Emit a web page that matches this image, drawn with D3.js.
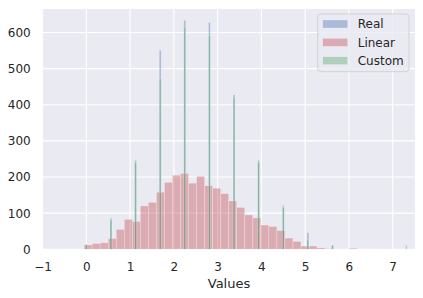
<!DOCTYPE html>
<html>
<head>
<meta charset="utf-8">
<script src="https://cdn.jsdelivr.net/npm/d3@7"></script>
<style>
  body { margin: 0; background: #fff; }
  text { font-family: "DejaVu Sans", sans-serif; fill: #262626; }
</style>
</head>
<body>
<svg id="chart"></svg>
<script>
// discrete values shared by Real and Custom
const spikeValues = [0, 0.5625, 1.125, 1.6875, 2.25, 2.8125, 3.375, 3.9375, 4.5, 5.0625, 5.625, 6.1875, 6.75, 7.3125]
const realCounts = [12, 80, 240, 551, 634, 628, 428, 240, 115, 46, 10, 0, 0, 0]
const customCounts = [14, 87, 247, 473, 615, 592, 419, 247, 122, 26, 12, 0, 0, 11]

// Linear histogram: first bin edge, bin width, counts
const linearStart = -0.05
const linearBinWidth = 0.1835
const linearCounts = [12, 16, 18, 30, 55, 83, 77, 120, 130, 158, 185, 205, 210, 183, 202, 176, 169, 154, 134, 116,
  95, 87, 67, 63, 52, 31, 22, 9, 9, 4, 2, 1, 0, 3, 0, 0, 0, 1, 0, 0]

const xTicks = [-1, 0, 1, 2, 3, 4, 5, 6, 7]
const yTicks = [0, 100, 200, 300, 400, 500, 600]
const seriesNames = ["Real", "Linear", "Custom"]
const seriesColors = ["#4C72B0", "#C44E52", "#55A868"]

const width = 423
const height = 298
const plot = { left: 43, right: 415, top: 9, bottom: 249.3 }
const spikeWidth = 0.045

const svg = d3.select("#chart").attr("width", width).attr("height", height)

const x = d3.scaleLinear().domain([-0.99, 7.51]).range([plot.left, plot.right])
const y = d3.scaleLinear().domain([0, 665]).range([plot.bottom, plot.top])

// background
svg.append("rect")
  .attr("x", plot.left).attr("y", plot.top)
  .attr("width", plot.right - plot.left).attr("height", plot.bottom - plot.top)
  .attr("fill", "#EAEAF2")

// grid
const grid = svg.append("g").attr("stroke", "#fff").attr("stroke-width", 1.1)
grid.selectAll("line.gx").data(xTicks).join("line")
  .attr("x1", d => x(d)).attr("x2", d => x(d))
  .attr("y1", plot.top).attr("y2", plot.bottom)
grid.selectAll("line.gy").data(yTicks).join("line")
  .attr("x1", plot.left).attr("x2", plot.right)
  .attr("y1", d => y(d)).attr("y2", d => y(d))

const clip = svg.append("clipPath").attr("id", "clip")
  .append("rect")
  .attr("x", plot.left).attr("y", plot.top)
  .attr("width", plot.right - plot.left).attr("height", plot.bottom - plot.top)

const bars = svg.append("g").attr("clip-path", "url(#clip)")

const drawBars = (data, color) => {
  bars.append("g")
    .selectAll("rect")
    .data(data.filter(d => d.count > 0))
    .join("rect")
    .attr("x", d => x(d.x0))
    .attr("width", d => x(d.x1) - x(d.x0))
    .attr("y", d => y(d.count))
    .attr("height", d => y(0) - y(d.count))
    .attr("fill", color)
    .attr("fill-opacity", 0.4)
    .attr("stroke", "#fff")
    .attr("stroke-opacity", 0.4)
    .attr("stroke-width", 0.6)
}

const spikes = (counts) => spikeValues.map((v, i) => ({
  x0: v - spikeWidth / 2, x1: v + spikeWidth / 2, count: counts[i],
}))
const linearData = linearCounts.map((c, i) => ({
  x0: linearStart + i * linearBinWidth, x1: linearStart + (i + 1) * linearBinWidth, count: c,
}))

drawBars(spikes(realCounts), seriesColors[0])
drawBars(linearData, seriesColors[1])
drawBars(spikes(customCounts), seriesColors[2])

// axes
const xAxis = svg.append("g")
  .attr("transform", `translate(0,${plot.bottom})`)
  .call(d3.axisBottom(x).tickValues(xTicks).tickSize(0).tickPadding(13).tickFormat(d3.format("")))
xAxis.select(".domain").remove()
xAxis.selectAll("text").attr("font-size", 12).attr("fill", "#262626")
  .attr("font-family", "DejaVu Sans")
  .text(d => d < 0 ? "\u2212" + Math.abs(d) : d)

const yAxis = svg.append("g")
  .attr("transform", `translate(${plot.left},0)`)
  .call(d3.axisLeft(y).tickValues(yTicks).tickSize(0).tickPadding(12.3))
yAxis.select(".domain").remove()
yAxis.selectAll("text").attr("font-size", 12).attr("fill", "#262626")
  .attr("font-family", "DejaVu Sans")

svg.append("text")
  .attr("x", (plot.left + plot.right) / 2)
  .attr("y", 288)
  .attr("text-anchor", "middle")
  .attr("font-size", 13)
  .text("Values")

// legend
const legend = svg.append("g").attr("transform", "translate(317.7,14)")
legend.append("rect")
  .attr("width", 91.3).attr("height", 57.7)
  .attr("rx", 3)
  .attr("fill", "#EAEAF2")
  .attr("fill-opacity", 0.8)
  .attr("stroke", "#cccccc")
  .attr("stroke-opacity", 0.8)
  .attr("stroke-width", 1)

const rows = legend.selectAll("g.row").data(seriesNames).join("g")
  .attr("transform", (d, i) => `translate(5,${10 + i * 18.35})`)
rows.append("rect")
  .attr("y", -4).attr("width", 25).attr("height", 8)
  .attr("fill", (d, i) => seriesColors[i])
  .attr("fill-opacity", 0.4)
  .attr("stroke", "#fff")
  .attr("stroke-opacity", 0.4)
  .attr("stroke-width", 0.6)
rows.append("text")
  .attr("x", 35).attr("dy", "0.36em")
  .attr("font-size", 12)
  .text(d => d)
</script>
</body>
</html>
